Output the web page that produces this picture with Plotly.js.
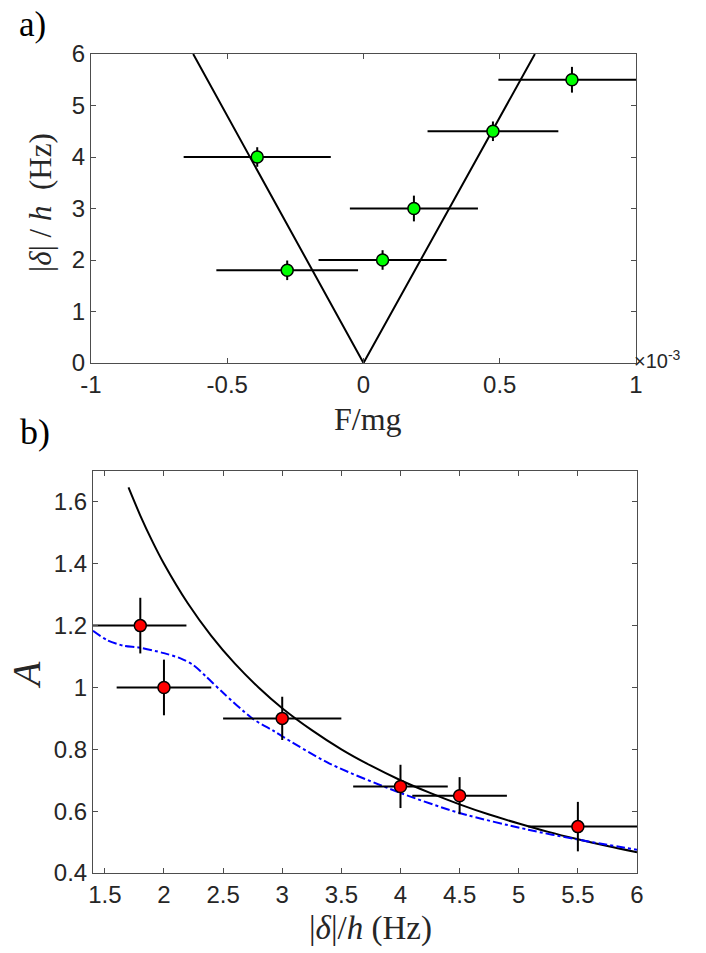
<!DOCTYPE html>
<html>
<head>
<meta charset="utf-8">
<script src="https://cdn.plot.ly/plotly-3.0.1.min.js"></script>
<style>
  html, body { margin: 0; padding: 0; background: #fff; }
  #chart { width: 706px; height: 953px; }
</style>
</head>
<body>
<div id="chart"></div>
<script>
// panel a): detuning vs force (force in units of 1e-3 mg)
const forceX = [-0.39, -0.28, 0.07, 0.185, 0.475, 0.765];
const forceXErr = [0.27, 0.26, 0.235, 0.235, 0.24, 0.27];
const detuningA = [4.0, 1.8, 2.0, 3.0, 4.5, 5.5];
const detuningAErr = [0.19, 0.19, 0.19, 0.25, 0.19, 0.25];
const vLineX = [-0.625, 0, 0.629];
const vLineY = [6, 0, 6];
const forceTickVals = [-1, -0.5, 0, 0.5, 1];
const forceTickText = ["-1", "-0.5", "0", "0.5", "1"];

// panel b): amplitude vs detuning
const detuningB = [1.8, 2.0, 3.0, 4.0, 4.5, 5.5];
const detuningBErrPlus = [0.39, 0.4, 0.5, 0.4, 0.4, 0.55];
const detuningBErrMinus = [0.4, 0.4, 0.5, 0.4, 0.4, 0.42];
const amp = [1.2, 1.0, 0.9, 0.68, 0.65, 0.55];
const ampErr = [0.09, 0.09, 0.07, 0.07, 0.06, 0.08];

// black theory curve
const fitX = [1.7, 1.8, 1.9, 2.0, 2.2, 2.4, 2.6, 2.8, 3.0, 3.25, 3.5, 3.75, 4.0, 4.25, 4.5, 4.75, 5.0, 5.25, 5.5, 5.75, 6.0];
const fitA = [1.647, 1.556, 1.474, 1.40, 1.273, 1.167, 1.077, 1.0, 0.933, 0.862, 0.80, 0.747, 0.70, 0.659, 0.622, 0.589, 0.56, 0.533, 0.509, 0.487, 0.467];

// blue dash-dot simulation curve
const simX = [1.4, 1.52, 1.66, 1.79, 2.0, 2.14, 2.25, 2.36, 2.5, 2.75, 2.92, 3.0, 3.4, 4.0, 4.5, 5.08, 5.5, 6.0];
const simA = [1.183, 1.153, 1.135, 1.129, 1.111, 1.094, 1.072, 1.034, 0.983, 0.899, 0.861, 0.842, 0.754, 0.659, 0.594, 0.54, 0.508, 0.475];

const W = 706, H = 953;
const px = x => x / W;
const py = y => 1 - y / H;

const sans = "Liberation Sans, Arial, sans-serif";
const serif = "Liberation Serif, Times New Roman, serif";
const tickFont = { family: sans, size: 24, color: "#262626" };

function axisStyle(extra) {
  return Object.assign({
    showgrid: false,
    zeroline: false,
    showline: true,
    linecolor: "#4d4d4d",
    linewidth: 1,
    mirror: "ticks",
    ticks: "inside",
    ticklen: 5,
    tickcolor: "#4d4d4d",
    tickfont: tickFont,
    fixedrange: true
  }, extra);
}

const errStyle = { type: "data", visible: true, thickness: 2, width: 0, color: "#000" };

const traces = [
  {
    x: vLineX, y: vLineY, xaxis: "x", yaxis: "y",
    type: "scatter", mode: "lines",
    line: { color: "#000", width: 2 },
    hoverinfo: "skip"
  },
  {
    x: forceX, y: detuningA, xaxis: "x", yaxis: "y",
    type: "scatter", mode: "markers",
    error_x: Object.assign({ array: forceXErr }, errStyle),
    error_y: Object.assign({ array: detuningAErr }, errStyle),
    marker: { color: "#00ff00", size: 12, line: { color: "#000", width: 1.5 } }
  },
  {
    x: fitX, y: fitA, xaxis: "x2", yaxis: "y2",
    type: "scatter", mode: "lines",
    line: { color: "#000", width: 2, shape: "spline", smoothing: 0.8 },
    hoverinfo: "skip"
  },
  {
    x: simX, y: simA, xaxis: "x2", yaxis: "y2",
    type: "scatter", mode: "lines",
    line: { color: "#0000ff", width: 2, dash: "dashdot", shape: "spline", smoothing: 0.8 },
    hoverinfo: "skip"
  },
  {
    x: detuningB, y: amp, xaxis: "x2", yaxis: "y2",
    type: "scatter", mode: "markers",
    error_x: Object.assign({ symmetric: false, array: detuningBErrPlus, arrayminus: detuningBErrMinus }, errStyle),
    error_y: Object.assign({ array: ampErr }, errStyle),
    marker: { color: "#ff0000", size: 12, line: { color: "#000", width: 1.5 } }
  }
];

const layout = {
  width: W,
  height: H,
  margin: { l: 0, r: 0, t: 0, b: 0 },
  paper_bgcolor: "#fff",
  plot_bgcolor: "#fff",
  showlegend: false,
  xaxis: axisStyle({
    domain: [px(91), px(636)], anchor: "y",
    range: [-1, 1], tickvals: forceTickVals, ticktext: forceTickText
  }),
  yaxis: axisStyle({
    domain: [py(363), py(54)], anchor: "x",
    range: [0, 6], dtick: 1, tick0: 0
  }),
  xaxis2: axisStyle({
    domain: [px(93), px(637)], anchor: "y2",
    range: [1.4, 6], dtick: 0.5, tick0: 1.5
  }),
  yaxis2: axisStyle({
    domain: [py(873), py(471)], anchor: "x2",
    range: [0.4, 1.7], dtick: 0.2, tick0: 0.4
  }),
  annotations: [
    { text: "a)", x: px(32), y: py(24), font: { family: serif, size: 35, color: "#000" } },
    { text: "b)", x: px(35), y: py(432), font: { family: serif, size: 36, color: "#000" } },
    { text: "F/mg", x: px(368), y: py(419), font: { family: serif, size: 32, color: "#262626" } },
    { text: "|<i>δ</i>| / <i>h</i>  (Hz)", x: px(41), y: py(203), textangle: -90,
      font: { family: serif, size: 31, color: "#262626" } },
    { text: "×10<sup>-3</sup>", x: px(632), y: py(359), xanchor: "left",
      font: { family: sans, size: 20, color: "#262626" } },
    { text: "<i>A</i>", x: px(26), y: py(675), textangle: -90,
      font: { family: serif, size: 40, color: "#262626" } },
    { text: "|<i>δ</i>|/<i>h</i> (Hz)", x: px(370), y: py(928),
      font: { family: serif, size: 33, color: "#262626" } }
  ].map(a => Object.assign({ xref: "paper", yref: "paper", showarrow: false, xanchor: "center", yanchor: "middle" }, a))
};

Plotly.newPlot("chart", traces, layout, { staticPlot: true, displayModeBar: false });
</script>
</body>
</html>
